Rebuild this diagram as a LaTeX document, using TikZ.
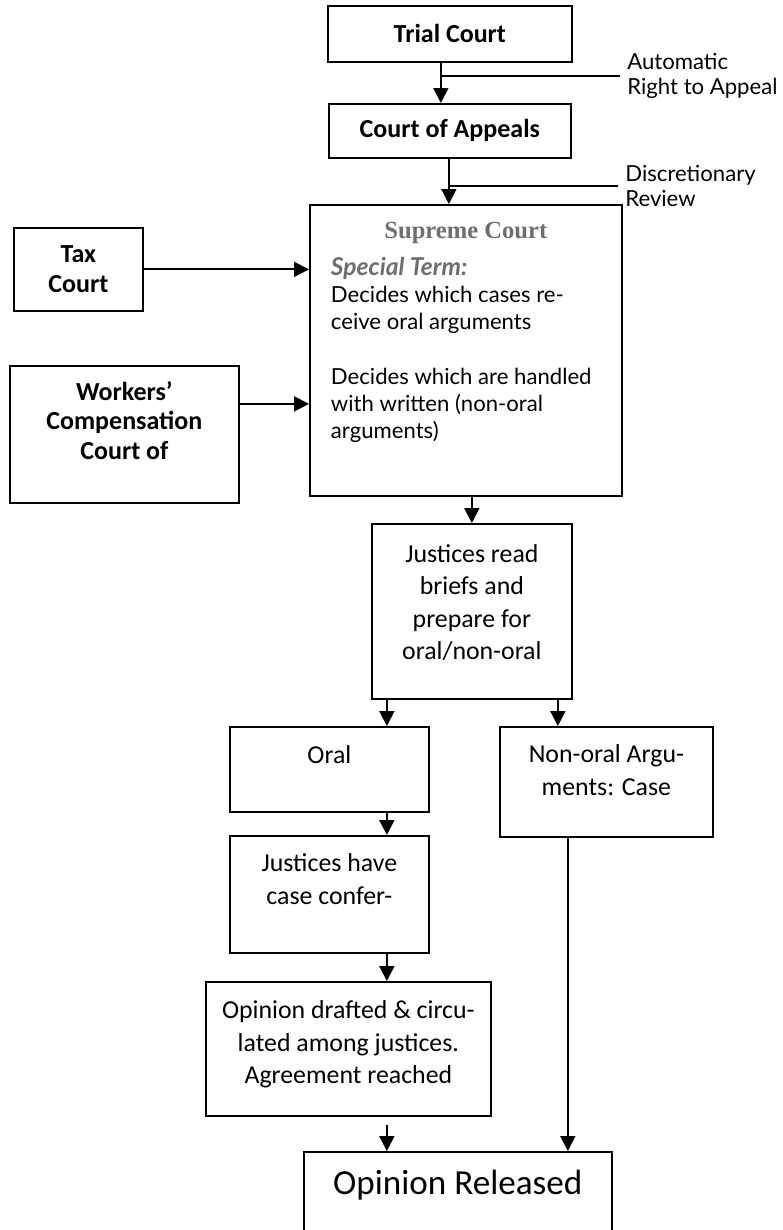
\documentclass[tikz,border=0pt]{standalone}
\usepackage{fontspec}
\setmainfont{Carlito}
\newfontfamily\gill{Lato}
\newfontfamily\serifhead{Liberation Serif}
\usetikzlibrary{arrows.meta}
\definecolor{headgray}{HTML}{6E6E6E}
\def\cell#1#2#3#4{\parbox[c][#2][t]{#1}{\centering\rule{0pt}{#3}#4}}

\begin{document}
\begin{tikzpicture}[x=0.02cm, y=-0.02cm, >={Triangle[length=8.5pt,width=8.5pt]},
  box/.style={draw, line width=1pt, inner sep=0pt, anchor=north west},
  head/.style={font=\fontsize{14.8}{16.8}\selectfont\bfseries, align=center},
  body/.style={font=\fontsize{14.7}{18.4}\selectfont},
  note/.style={anchor=west, align=left, inner xsep=4pt, inner ysep=0pt, font=\gill\fontsize{12.6}{14.2}\selectfont},
  flow/.style={->, line width=1.1pt}]
\useasboundingbox (0,0) rectangle (783,1230);
\node (trial) at (327,5) [box, head, minimum width=4.88cm, minimum height=1.12cm] {Trial Court};
\node (appeals) at (328,103) [box, head, minimum width=4.84cm, minimum height=1.08cm] {Court of Appeals};
\node (supreme) at (309,204) [box, font=\gill\fontsize{12.6}{15.4}\selectfont] {\parbox[c][5.82cm][t]{6.24cm}{\centering\rule{0pt}{19pt}\textcolor{headgray}{\serifhead\bfseries\fontsize{14}{16}\selectfont Supreme Court}\par\vspace{6pt}\raggedright\leftskip=12pt
  \textcolor{headgray}{\bfseries\itshape\fontsize{14}{15.4}\selectfont Special Term:}\\ Decides which cases re-\\ ceive oral arguments\\[15.4pt] Decides which are handled\\ with written (non-oral\\ arguments)}};
\node (tax) at (13,227) [box, head, minimum width=2.58cm, minimum height=1.66cm] {Tax\\ Court};
\node (workers) at (9,365) [box, head] {\cell{4.58cm}{2.74cm}{19.5pt}{Workers’\\ Compensation\\ Court of}};
\node (justread) at (371,523) [box, body] {\cell{4cm}{3.5cm}{22pt}{Justices read\\ briefs and\\ prepare for\\ oral/non-oral}};
\node (oral) at (229,726) [box, body] {\cell{3.98cm}{1.7cm}{21pt}{Oral}};
\node (nonoral) at (499,726) [box, body] {\cell{4.26cm}{2.2cm}{20.5pt}{Non-oral Argu-\\ ments: Case}};
\node (justhave) at (229,835) [box, body] {\cell{3.98cm}{2.34cm}{20.5pt}{Justices have\\ case confer-}};
\node (drafted) at (205,981) [box, body] {\cell{5.7cm}{2.68cm}{21pt}{Opinion drafted \& circu-\\ lated among justices.\\ Agreement reached}};
\node (released) at (303,1151) [box, font=\fontsize{20}{24}\selectfont] {\cell{6.16cm}{1.9cm}{24pt}{Opinion Released}};
\node (autolbl) at (620,76) [note] {Automatic\\Right to Appeal};
\node (disclbl) at (618,186) [note] {Discretionary\\Review};
\coordinate (autoj) at (440,76);
\coordinate (discj) at (448,186);

\draw [flow] ([xshift=-0.18cm]trial.south) to ([xshift=-0.18cm]trial.south |- appeals.north);
\draw [line width=1.1pt] (autoj) to (autolbl.west);
\draw [flow] ([xshift=-0.02cm]appeals.south) to ([xshift=-0.02cm]appeals.south |- supreme.north);
\draw [line width=1.1pt] (discj) to (disclbl.west);
\draw [flow] (tax.east) to (tax.east -| supreme.west);
\draw [flow] ([yshift=0.61cm]workers.east) to ([yshift=0.61cm]workers.east -| supreme.west);
\draw [flow] (justread.north |- supreme.south) to (justread.north);
\draw [flow] ([xshift=-1.7cm]justread.south) to ([xshift=-1.7cm]justread.south |- oral.north);
\draw [flow] ([xshift=1.72cm]justread.south) to ([xshift=1.72cm]justread.south |- nonoral.north);
\draw [flow] ([xshift=1.15cm]oral.south) to ([xshift=1.15cm]oral.south |- justhave.north);
\draw [flow] ([xshift=1.15cm]justhave.south) to ([xshift=1.15cm]justhave.south |- drafted.north);
\draw [flow] ([xshift=0.77cm,yshift=-0.16cm]drafted.south) to ([xshift=0.77cm]drafted.south |- released.north);
\draw [flow] ([xshift=-0.77cm]nonoral.south) to ([xshift=-0.77cm]nonoral.south |- released.north);
\end{tikzpicture}
\end{document}
